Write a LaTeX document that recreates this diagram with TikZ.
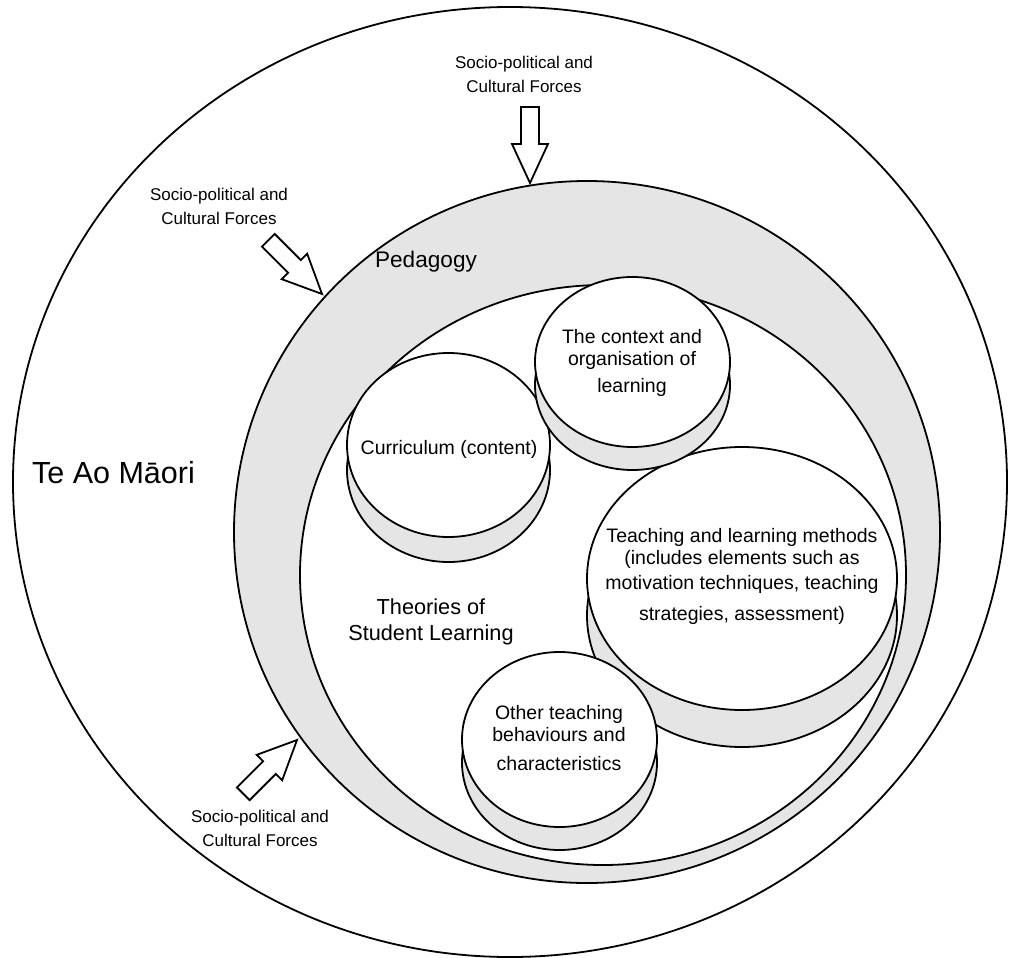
\documentclass[tikz,border=0pt]{standalone}
\usepackage{fontspec}
\setmainfont{Liberation Sans}
\definecolor{pedgray}{RGB}{229,229,229}
\newcommand\forcearrow[3]{\draw[arrowshape, shift={(#1,#2)}, rotate=#3] (0,0) -- (-39,18) -- (-39,9) -- (-76,9) -- (-76,-9) -- (-39,-9) -- (-39,-18) -- cycle;}
\begin{document}
\begin{tikzpicture}[x=1pt,y=-1pt,
  ring/.style={draw=black, line width=1.8pt},
  shadowfill/.style={ring, fill=pedgray},
  frontfill/.style={ring, fill=white},
  lbl/.style={align=center, inner sep=0pt, text=black},
  force/.style={lbl, font=\fontsize{17}{24}\selectfont},
  innertext/.style={lbl, font=\fontsize{19.5}{22}\selectfont},
  arrowshape/.style={draw=black, fill=white, line width=1.8pt, line join=miter}]
\useasboundingbox (0,0) rectangle (1012,958);
\fill[white] (0,0) rectangle (1012,958);
% Te Ao Maori world
\draw[frontfill] (510,482) ellipse [x radius=497pt, y radius=475pt];
% Pedagogy
\draw[shadowfill] (587,532) ellipse [x radius=353pt, y radius=351pt];
% Theories of student learning
\draw[frontfill] (603,575) ellipse [x radius=303pt, y radius=290pt];
% Teaching and learning methods
\draw[shadowfill] (742,615.5) ellipse [x radius=155pt, y radius=131.5pt];
\draw[frontfill] (742,578.5) ellipse [x radius=155pt, y radius=131.5pt];
% Other teaching behaviours
\draw[shadowfill] (559.5,762.5) ellipse [x radius=97.5pt, y radius=87.5pt];
\draw[frontfill] (559.5,739.5) ellipse [x radius=97.5pt, y radius=87.5pt];
% Curriculum
\draw[shadowfill] (448.5,470) ellipse [x radius=101.5pt, y radius=92pt];
\draw[frontfill] (448.5,445) ellipse [x radius=101.5pt, y radius=92pt];
% Context
\draw[shadowfill] (632.5,385) ellipse [x radius=97.5pt, y radius=85pt];
\draw[frontfill] (632.5,362) ellipse [x radius=97.5pt, y radius=85pt];
% arrows
\forcearrow{530}{183}{-90}
\forcearrow{322}{294}{-45}
\forcearrow{297}{740}{45}
% labels
\node[lbl, font=\fontsize{30.5}{36}\selectfont] (teao) at (113.5,473) {Te Ao Māori};
\node[lbl, font=\fontsize{22.6}{27}\selectfont] (ped) at (426,262) {Pedagogy};
\node[lbl, font=\fontsize{21.7}{26}\selectfont] (theories) at (431,622) {Theories of\\Student Learning};
\node[innertext] (curr) at (449,449) {Curriculum (content)};
\node[innertext] (ctx) at (632,363) {The context and\\organisation of\\[5pt]learning};
\node[innertext] (teach) at (742,576) {Teaching and learning methods\\[0pt](includes elements such as\\[3pt]motivation techniques, teaching\\[9pt]strategies, assessment)};
\node[innertext] (other) at (559,738) {Other teaching\\behaviours and\\[7pt]characteristics};
\node[force] (f1) at (524,74) {Socio-political and\\Cultural Forces};
\node[force] (f2) at (219,206.5) {Socio-political and\\Cultural Forces};
\node[force] (f3) at (260,828.5) {Socio-political and\\Cultural Forces};
\end{tikzpicture}
\end{document}
